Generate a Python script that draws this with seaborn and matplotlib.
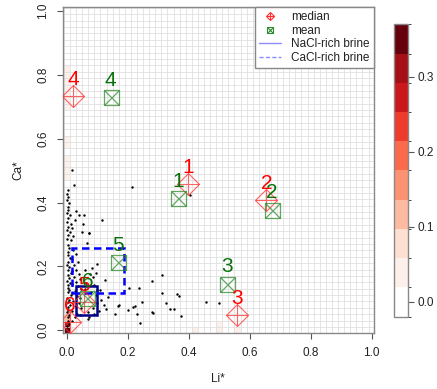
import numpy as np
import matplotlib
matplotlib.use("Agg")
import matplotlib.pyplot as plt
from matplotlib.colors import ListedColormap, BoundaryNorm
from matplotlib.cm import ScalarMappable
from matplotlib.lines import Line2D
from matplotlib.patches import Rectangle
import seaborn as sns

# ---- data -------------------------------------------------------------
groups = ["1", "2", "3", "4", "5", "6"]

median_li = [0.398, 0.655, 0.557, 0.021, 0.056, 0.010]
median_ca = [0.458, 0.408, 0.047, 0.734, 0.088, 0.025]
mean_li = [0.365, 0.673, 0.524, 0.143, 0.166, 0.067]
mean_ca = [0.415, 0.378, 0.146, 0.731, 0.214, 0.101]

# brine field boxes: [Li* min, Li* max, Ca* min, Ca* max]
nacl_box = [0.030, 0.097, 0.047, 0.138]
cacl_box = [0.015, 0.188, 0.117, 0.258]

# sample compositions
li_pts = [
    0.002, 0.000, 0.004, 0.001, 0.006, 0.002, 0.003, 0.001, 0.009, 0.003,
    0.001, 0.012, 0.003, 0.001, 0.009, 0.003, 0.001, 0.005, 0.003, 0.007,
    0.002, 0.010, 0.004, 0.001, 0.008, 0.003, 0.012, 0.002, 0.006, 0.001,
    0.010, 0.004, 0.002, 0.008, 0.003, 0.012, 0.001, 0.006, 0.003, 0.009,
    0.002, 0.005, 0.001, 0.008, 0.003, 0.002, 0.006, 0.001,
    0.016, 0.022, 0.031, 0.041, 0.025, 0.052, 0.016, 0.049, 0.020, 0.014,
    0.020, 0.028, 0.018, 0.035, 0.024, 0.030, 0.016, 0.038, 0.022, 0.044,
    0.028, 0.018, 0.036, 0.046, 0.025, 0.015, 0.032, 0.042, 0.020, 0.038,
    0.028, 0.046, 0.018, 0.034, 0.043, 0.026, 0.016,
    0.056, 0.073, 0.116, 0.065, 0.100, 0.071, 0.108, 0.100, 0.125, 0.128,
    0.136, 0.068, 0.073, 0.058, 0.075, 0.085, 0.062, 0.090, 0.078, 0.095,
    0.058, 0.070, 0.085, 0.100, 0.112, 0.090, 0.105, 0.120, 0.082, 0.095,
    0.278, 0.236, 0.203, 0.247, 0.216, 0.222, 0.201, 0.229, 0.240, 0.278,
    0.283, 0.325, 0.338, 0.351, 0.360, 0.368, 0.374, 0.158, 0.168, 0.172,
    0.458, 0.499, 0.311, 0.311, 0.404, 0.212,
]
ca_pts = [
    0.440, 0.428, 0.418, 0.408, 0.397, 0.387, 0.376, 0.366, 0.360, 0.350,
    0.340, 0.332, 0.324, 0.313, 0.308, 0.298, 0.287, 0.266, 0.245, 0.256,
    0.235, 0.226, 0.215, 0.205, 0.197, 0.188, 0.180, 0.172, 0.164, 0.155,
    0.148, 0.140, 0.132, 0.125, 0.118, 0.110, 0.102, 0.095, 0.087, 0.080,
    0.072, 0.064, 0.056, 0.048, 0.040, 0.030, 0.020, 0.012,
    0.502, 0.455, 0.374, 0.360, 0.345, 0.334, 0.319, 0.308, 0.295, 0.282,
    0.251, 0.238, 0.222, 0.215, 0.205, 0.190, 0.185, 0.176, 0.168, 0.160,
    0.152, 0.145, 0.138, 0.130, 0.124, 0.116, 0.108, 0.100, 0.092, 0.084,
    0.076, 0.068, 0.060, 0.052, 0.047, 0.040, 0.030,
    0.361, 0.305, 0.345, 0.272, 0.206, 0.303, 0.125, 0.125, 0.157, 0.065,
    0.104, 0.034, 0.042, 0.190, 0.175, 0.165, 0.148, 0.140, 0.120, 0.110,
    0.128, 0.058, 0.070, 0.085, 0.095, 0.050, 0.060, 0.080, 0.195, 0.180,
    0.155, 0.131, 0.131, 0.089, 0.073, 0.075, 0.063, 0.049, 0.021, 0.057,
    0.054, 0.086, 0.065, 0.065, 0.112, 0.107, 0.045, 0.050, 0.075, 0.078,
    0.089, 0.084, 0.172, 0.115, 0.423, 0.449,
]

# 2-D density cells (cell centre Li*, cell centre Ca*, density)
cell_li = [0.00, 0.00, 0.00, 0.00, 0.00, 0.00, 0.00, 0.00, 0.00, 0.00,
           0.00, 0.00, 0.00, 0.00, 0.00, 0.00, 0.00, 0.02, 0.42, 0.50,
           0.50, 0.56]
cell_ca = [0.00, 0.02, 0.04, 0.06, 0.48, 0.50, 0.52, 0.54, 0.58, 0.60,
           0.70, 0.72, 0.74, 0.76, 0.78, 0.80, 0.82, 0.00, 0.00, 0.00,
           0.02, 0.00]
cell_val = [0.36, 0.27, 0.11, 0.07, 0.03, 0.03, 0.03, 0.03, 0.03, 0.03,
            0.03, 0.03, 0.03, 0.03, 0.03, 0.03, 0.03, 0.05, 0.03, 0.03,
            0.03, 0.03]

density_levels = np.linspace(-0.02, 0.37, 11)
density_colors = ["#FFFFFF", "#FDEFEA", "#FEE0D2", "#FCBBA1", "#FC9272",
                  "#FB6A4A", "#EF3B2C", "#CB181D", "#A50F15", "#67000D"]

# ---- styling ----------------------------------------------------------
sns.set_style("white")
plt.rcParams["font.family"] = ["Liberation Sans", "DejaVu Sans"]

fig = plt.figure(figsize=(4.37, 3.89), dpi=100)
ax = fig.add_axes([0.1442, 0.1432, 0.7116, 0.838])
cax = fig.add_axes([0.9016, 0.1859, 0.0313, 0.7516])

cmap = ListedColormap(density_colors)
norm = BoundaryNorm(density_levels, cmap.N)

# density grid
step = 0.02
edges = np.arange(-0.01, 1.01 + 1e-9, step)
Z = np.full((len(edges) - 1, len(edges) - 1), np.nan)
for cx, cy, v in zip(cell_li, cell_ca, cell_val):
    Z[int(round(cy / step)), int(round(cx / step))] = v
ax.pcolormesh(edges, edges, np.ma.masked_invalid(Z), cmap=cmap, norm=norm,
              zorder=0.1)

# fine grid
ax.set_xticks(edges, minor=True)
ax.set_yticks(edges, minor=True)
ax.grid(which="minor", color="#e0e0e0", lw=0.6)
ax.grid(which="major", visible=False)
ax.set_axisbelow(True)

# samples
sns.scatterplot(x=li_pts, y=ca_pts, color="black", s=3, linewidth=0, ax=ax,
                zorder=2)

# brine boxes
ax.add_patch(Rectangle((nacl_box[0], nacl_box[2]), nacl_box[1] - nacl_box[0],
                       nacl_box[3] - nacl_box[2], fill=False,
                       edgecolor="#00008B", lw=1.8, zorder=4))
ax.add_patch(Rectangle((cacl_box[0], cacl_box[2]), cacl_box[1] - cacl_box[0],
                       cacl_box[3] - cacl_box[2], fill=False,
                       edgecolor="#0000FF", lw=1.8, linestyle=(0, (3, 1.8)),
                       zorder=4))

red_mk = "#FF3030"
green_mk = "#2E8B2E"
red_txt = "#FF0000"
green_txt = "#0A700A"

# medians: diamond with plus
ax.plot(median_li, median_ca, ls="none", marker="D", ms=11.2, mfc="none",
        mec=red_mk, mew=0.8, alpha=0.75, zorder=5)
ax.plot(median_li, median_ca, ls="none", marker="+", ms=15.8,
        mec=red_mk, mew=0.8, alpha=0.75, zorder=5)
# means: square with cross
ax.plot(mean_li, mean_ca, ls="none", marker="s", ms=10.8, mfc="none",
        mec=green_mk, mew=0.9, alpha=0.75, zorder=5)
ax.plot(mean_li, mean_ca, ls="none", marker="x", ms=10.8,
        mec=green_mk, mew=0.9, alpha=0.75, zorder=5)

for g, x, y in zip(groups, median_li, median_ca):
    ax.annotate(g, (x, y), xytext=(0, 12), textcoords="offset points",
                ha="center", va="center", fontsize=15, color=red_txt,
                zorder=6)
for g, x, y in zip(groups, mean_li, mean_ca):
    ax.annotate(g, (x, y), xytext=(0, 12), textcoords="offset points",
                ha="center", va="center", fontsize=15, color=green_txt,
                zorder=6)

# axes
ax.set_xlim(-0.013, 1.008)
ax.set_ylim(-0.01, 1.012)
ticks = [0.0, 0.2, 0.4, 0.6, 0.8, 1.0]
ax.set_xticks(ticks)
ax.set_yticks(ticks)
ax.set_xticklabels([f"{t:.1f}" for t in ticks])
ax.set_yticklabels([f"{t:.1f}" for t in ticks], rotation=90, va="center")
ax.tick_params(which="major", direction="out", length=4, width=0.8,
               color="#555555", labelsize=8.5, labelcolor="#222222", pad=6,
               bottom=True, left=True)
ax.tick_params(which="minor", length=0)
for sp in ax.spines.values():
    sp.set_color("#888888")
    sp.set_linewidth(1.0)
ax.set_xlabel("Li*", fontsize=8.5, color="#222222")
ax.set_ylabel("Ca*", fontsize=8.5, color="#222222")
ax.xaxis.set_label_coords(0.498, -0.123)
ax.yaxis.set_label_coords(-0.124, 0.501)

# legend
h_med = (Line2D([], [], ls="none", marker="D", ms=4.5, mfc="none",
                mec=red_mk, mew=0.8),
         Line2D([], [], ls="none", marker="+", ms=6.4, mec=red_mk, mew=0.8))
h_mean = (Line2D([], [], ls="none", marker="s", ms=4.5, mfc="none",
                 mec=green_mk, mew=0.8),
          Line2D([], [], ls="none", marker="x", ms=4.5, mec=green_mk,
                 mew=0.8))
h_nacl = Line2D([], [], color="#8C8CFF", lw=1.0)
h_cacl = Line2D([], [], color="#8C8CFF", lw=1.0, ls=(0, (3, 1.6)))
leg = ax.legend([h_med, h_mean, h_nacl, h_cacl],
                ["median", "mean", "NaCl-rich brine", "CaCl-rich brine"],
                loc="upper right", borderaxespad=0, fontsize=8.5,
                frameon=True, fancybox=False, framealpha=1,
                edgecolor="#888888", handlelength=1.8, handletextpad=0.9,
                labelspacing=0.12, borderpad=0.35)
leg.get_frame().set_linewidth(1.0)
for t in leg.get_texts():
    t.set_color("#222222")
leg.set_zorder(10)

# colour key
cb = fig.colorbar(ScalarMappable(norm=norm, cmap=cmap), cax=cax,
                  ticks=[0.0, 0.1, 0.2, 0.3], spacing="proportional")
cb.ax.set_yticklabels(["0.0", "0.1", "0.2", "0.3"])
cb.ax.tick_params(length=4, width=0.8, color="#555555", labelsize=8.5,
                  labelcolor="#222222", pad=3)
cb.outline.set_edgecolor("#888888")
cb.outline.set_linewidth(1.0)

fig.savefig("out.png", dpi=100)
